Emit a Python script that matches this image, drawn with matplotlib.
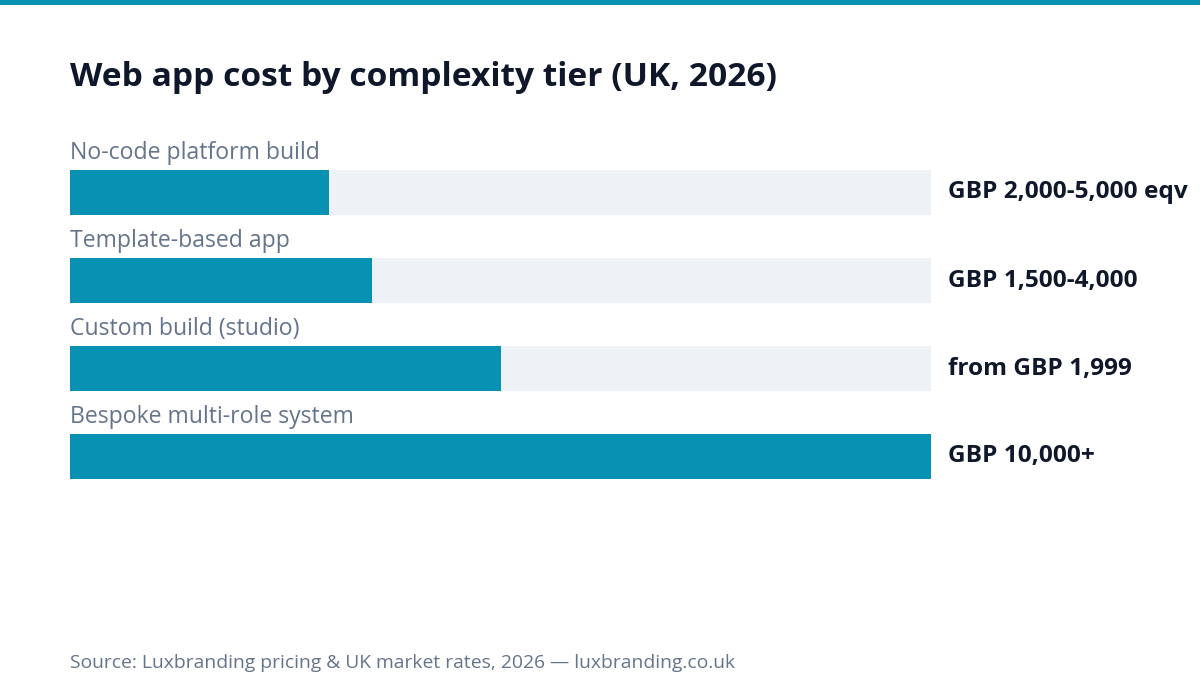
import matplotlib.pyplot as plt

plt.rcParams['font.family'] = ['Open Sans', 'DejaVu Sans']

categories = ['No-code platform build', 'Template-based app', 'Custom build (studio)', 'Bespoke multi-role system']
shares = [0.301, 0.351, 0.501, 1.0]
value_labels = ['GBP 2,000-5,000 eqv', 'GBP 1,500-4,000', 'from GBP 1,999', 'GBP 10,000+']

W, H = 1200, 700
teal = '#0891b2'
track = '#edf2f7'
gray = '#64748b'
dark = '#0f172a'

fig = plt.figure(figsize=(12, 7), dpi=100)
fig.patch.set_facecolor('white')

# top stripe
fig.add_artist(plt.Rectangle((0, 1 - 5 / H), 1, 5 / H, transform=fig.transFigure,
                             color=teal, lw=0))

# bar axes: x 70..931 px, y 170..479 px
ax = fig.add_axes([70 / W, 1 - 479 / H, 861 / W, 309 / H])
hb = 45 / 88 / 2
ax.set_xlim(0, 1)
ax.set_ylim(3 + hb, -hb)
ax.axis('off')

for i, (cat, s, lab) in enumerate(zip(categories, shares, value_labels)):
    ax.barh(i, 1, height=2 * hb, color=track, lw=0)
    ax.barh(i, s, height=2 * hb, color=teal, lw=0)
    ax.text(0, i - hb - 17 / 88, cat, color=gray, fontsize=16.6, va='center', ha='left', clip_on=False)
    ax.text(1 + 17 / 861, i, lab, color=dark, fontsize=17.6, fontweight='bold',
            va='center', ha='left', clip_on=False)

fig.text(70 / W, 1 - 78 / H, 'Web app cost by complexity tier (UK, 2026)', fontsize=24.1,
         fontweight='bold', color=dark, va='center', ha='left')
fig.text(70 / W, 1 - 663 / H, 'Source: Luxbranding pricing & UK market rates, 2026 \u2014 luxbranding.co.uk',
         fontsize=13.9, color=gray, va='center', ha='left')

fig.savefig('out.png', dpi=100)
